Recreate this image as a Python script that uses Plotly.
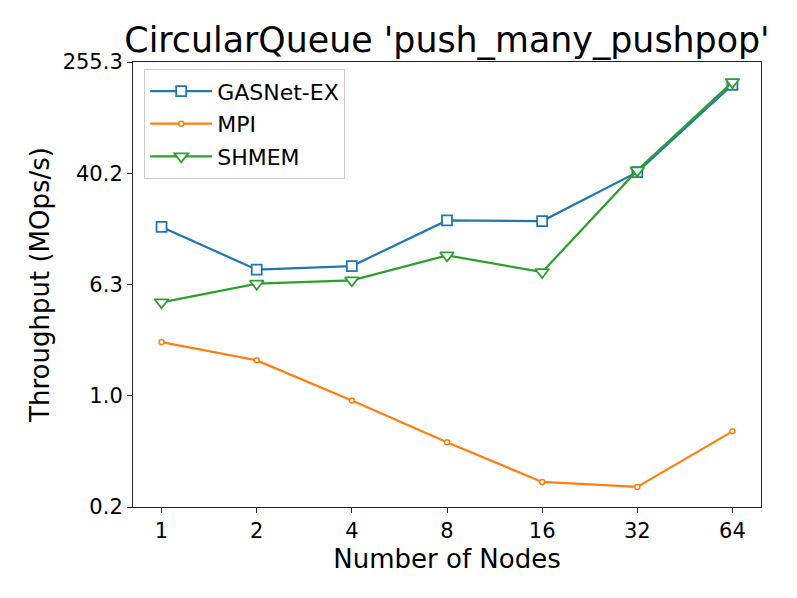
import numpy as np
import plotly.graph_objects as go

nodes = ["1", "2", "4", "8", "16", "32", "64"]
gasnet = [16.5, 8.12, 8.62, 18.4, 18.2, 41.0, 175.0]
mpi = [2.44, 1.80, 0.923, 0.462, 0.239, 0.220, 0.554]
shmem = [4.72, 6.43, 6.80, 10.3, 7.80, 42.2, 183.0]

y_min = 0.1577
y_max = 255.3
y_tick_text = ["0.2", "1.0", "6.3", "40.2", "255.3"]
y_tick_vals = list(10 ** np.linspace(np.log10(y_min), np.log10(y_max), 5))

FONT = "DejaVu Sans"
W, H = 789, 590
fig = go.Figure()
fig.add_trace(go.Scatter(
    x=nodes, y=gasnet, name="GASNet-EX", mode="lines+markers", legendgroup="g",
    line=dict(color="#1f77b4", width=2.2),
    marker=dict(symbol="square", size=10, color="white",
                line=dict(color="#1f77b4", width=1.8)),
))
fig.add_trace(go.Scatter(
    x=nodes, y=mpi, name="MPI", mode="lines+markers", legendgroup="m",
    line=dict(color="#ff7f0e", width=2.2),
    marker=dict(symbol="circle", size=5, color="white",
                line=dict(color="#ff7f0e", width=1.5)),
))
fig.add_trace(go.Scatter(
    x=nodes, y=shmem, name="SHMEM", mode="lines+markers", legendgroup="s",
    line=dict(color="#2ca02c", width=2.2),
    marker=dict(symbol="triangle-down", size=12, color="white",
                line=dict(color="#2ca02c", width=1.8)),
))

axis_common = dict(
    showline=True, linecolor="#222222", linewidth=1.1, mirror=True,
    ticks="outside", ticklen=5, tickwidth=1.1, tickcolor="#222222",
    showgrid=False, zeroline=False, automargin=False,
    tickfont=dict(family=FONT, size=21, color="black"),
)

fig.update_layout(
    width=W, height=H,
    paper_bgcolor="white", plot_bgcolor="white",
    margin=dict(l=125, r=36, t=54, b=91),
    font=dict(family=FONT, color="black"),
    title=dict(text="CircularQueue 'push_many_pushpop'",
               font=dict(family=FONT, size=34.8, color="black"),
               x=0.5, xref="paper", xanchor="center",
               y=1 - 32 / H, yref="container", yanchor="middle",
               automargin=False),
    xaxis=dict(type="category", range=[-0.3, 6.3],
               title=dict(text="Number of Nodes",
                          font=dict(family=FONT, size=26, color="black"),
                          standoff=7),
               **axis_common),
    yaxis=dict(type="log",
               range=[np.log10(y_min), np.log10(y_max)],
               tickmode="array", tickvals=y_tick_vals, ticktext=y_tick_text,
               title=dict(text="Throughput (MOps/s)",
                          font=dict(family=FONT, size=26, color="black"),
                          standoff=5),
               **axis_common),
    legend=dict(x=0.0175, y=0.984, xanchor="left", yanchor="top",
                bgcolor="rgba(255,255,255,0.8)", bordercolor="#cccccc",
                borderwidth=1.2,
                font=dict(family=FONT, size=22, color="black"),
                tracegroupgap=1, itemwidth=62),
    showlegend=True,
)

fig.write_html("out.html")
